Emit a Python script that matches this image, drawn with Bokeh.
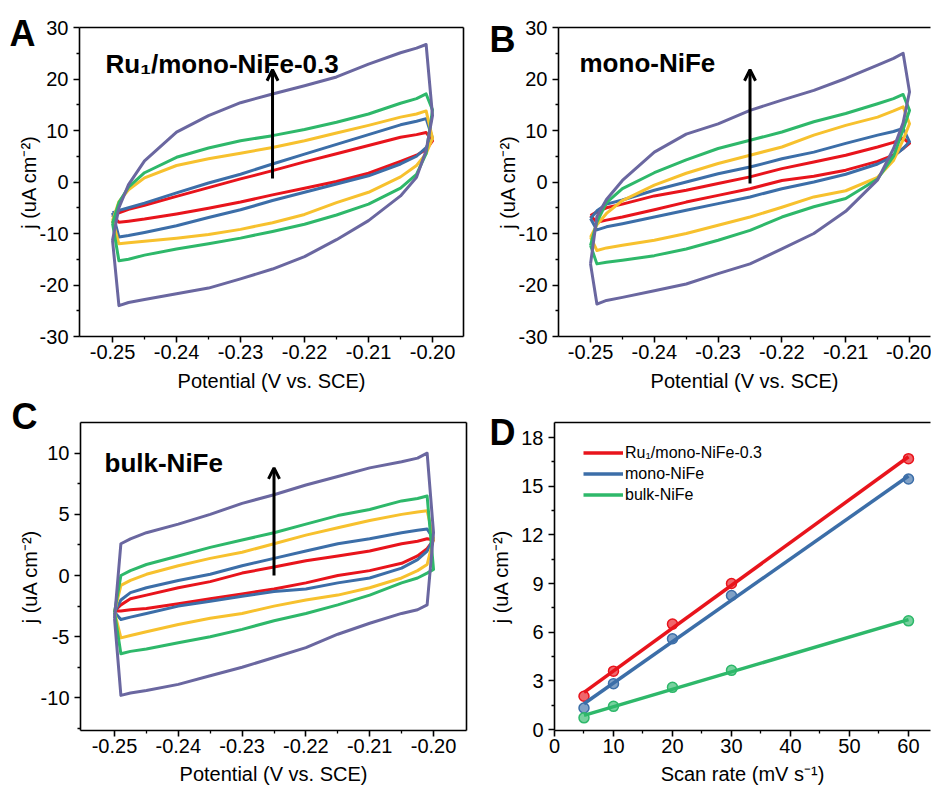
import numpy as np
from bokeh.plotting import figure
from bokeh.models import (Range1d, FixedTicker, LinearAxis, Label, Arrow, OpenHead,
                          Legend, LegendItem, Title)
from bokeh.layouts import column, row
from bokeh.embed import file_html
from bokeh.resources import INLINE

FONT = "Liberation Sans"

# ---------------- data ----------------
# potential grid (V vs. SCE) used for both branches of every CV loop
E = [-0.250, -0.249, -0.2475, -0.245, -0.240, -0.235, -0.230, -0.225,
     -0.220, -0.215, -0.210, -0.205, -0.2025, -0.201, -0.200]

rates = [5, 10, 20, 30, 60]   # scan rates, mV/s
colors = {5: "#E8141C", 10: "#3C6EA8", 20: "#F7C12E", 30: "#2EB86A", 60: "#6A67A0"}

# Panel A: Ru1/mono-NiFe-0.3  (anodic "up" and cathodic "dn" branch, uA cm-2)
A_up = {
    5:  [-6.5, -6.0, -5.3, -4.5, -2.8, -1.1, 0.6, 2.2, 3.9, 5.5, 7.1, 8.7, 9.2, 9.6, 8.0],
    10: [-6.0, -5.5, -5.0, -4.1, -2.1, -0.2, 1.5, 3.5, 5.4, 7.3, 9.2, 11.1, 11.8, 12.3, 8.5],
    20: [-7.5, -3.8, -1.5, 0.8, 3.2, 4.5, 5.6, 6.7, 8.0, 9.5, 11.0, 12.6, 13.2, 13.8, 8.5],
    30: [-8.0, -4.0, -1.0, 1.8, 4.8, 6.6, 8.0, 9.0, 10.2, 11.6, 13.2, 15.3, 16.2, 17.1, 14.0],
    60: [-11.3, -5.0, -0.5, 4.1, 9.7, 12.9, 15.4, 17.1, 18.7, 20.4, 22.9, 25.1, 26.0, 26.7, 12.9],
}
A_dn = {
    5:  [-6.5, -7.8, -7.6, -7.2, -6.2, -5.1, -3.9, -2.5, -1.2, 0.1, 1.7, 4.0, 5.2, 6.3, 8.0],
    10: [-6.0, -10.7, -10.4, -9.8, -8.5, -6.9, -5.4, -3.6, -2.0, -0.4, 1.2, 3.5, 5.0, 6.7, 8.5],
    20: [-7.5, -12.0, -11.8, -11.5, -10.9, -10.2, -9.2, -7.9, -6.3, -4.0, -2.0, 1.0, 3.2, 5.5, 8.5],
    30: [-8.0, -15.3, -15.0, -14.2, -13.0, -12.0, -10.9, -9.6, -8.2, -6.4, -4.3, -1.2, 1.5, 5.5, 14.0],
    60: [-11.3, -24.0, -23.4, -22.8, -21.7, -20.6, -18.8, -16.9, -14.5, -11.2, -7.5, -2.7, 0.9, 6.1, 12.9],
}

# Panel B: mono-NiFe
B_up = {
    5:  [-6.5, -5.8, -5.0, -4.3, -2.7, -1.6, -0.3, 1.0, 2.6, 3.9, 5.2, 6.8, 7.7, 8.5, 7.5],
    10: [-7.1, -5.6, -4.3, -3.5, -1.6, 0.0, 1.6, 2.9, 4.5, 5.8, 7.5, 9.1, 9.8, 10.4, 7.8],
    20: [-10.7, -8.3, -6.1, -3.6, -0.6, 1.7, 3.6, 5.2, 6.8, 9.1, 11.0, 12.6, 13.8, 14.6, 11.3],
    30: [-12.3, -7.8, -4.0, -1.3, 1.8, 4.3, 6.5, 8.1, 9.7, 11.7, 13.3, 15.2, 16.2, 17.0, 13.9],
    60: [-15.9, -6.7, -3.4, 0.3, 5.8, 9.3, 11.3, 13.9, 15.9, 17.8, 20.1, 22.7, 24.0, 25.0, 17.5],
}
B_dn = {
    5:  [-6.5, -7.8, -7.4, -6.8, -5.4, -3.9, -2.6, -1.3, 0.3, 1.1, 2.3, 4.0, 5.2, 6.5, 7.5],
    10: [-7.1, -9.3, -8.7, -8.1, -6.8, -5.5, -4.2, -2.9, -1.3, 0.0, 1.5, 3.5, 5.0, 6.5, 7.8],
    20: [-10.7, -13.3, -12.8, -12.3, -11.3, -10.0, -8.4, -6.8, -4.9, -2.9, -1.7, 0.9, 4.2, 8.2, 11.3],
    30: [-12.3, -15.9, -15.6, -15.2, -14.3, -13.0, -11.3, -9.4, -6.8, -4.8, -3.2, 0.6, 5.0, 10.2, 13.9],
    60: [-15.9, -23.7, -23.0, -22.4, -21.1, -19.8, -17.8, -15.9, -13.0, -10.0, -5.7, 0.4, 6.5, 11.5, 17.5],
}

# Panel C: bulk-NiFe
C_up = {
    5:  [-2.9, -2.4, -1.9, -1.6, -1.0, -0.5, 0.2, 0.7, 1.2, 1.6, 2.0, 2.6, 2.8, 3.0, 2.9],
    10: [-3.0, -2.0, -1.4, -1.0, -0.4, 0.1, 0.8, 1.4, 2.0, 2.6, 3.0, 3.5, 3.7, 3.8, 3.0],
    20: [-3.0, -0.8, -0.4, 0.1, 0.8, 1.4, 1.9, 2.6, 3.3, 3.9, 4.5, 5.0, 5.2, 5.3, 3.0],
    30: [-3.0, 0.0, 0.4, 0.9, 1.6, 2.3, 2.9, 3.5, 4.2, 4.9, 5.4, 6.1, 6.3, 6.5, 0.5],
    60: [-3.5, 2.6, 3.0, 3.5, 4.2, 5.0, 5.9, 6.6, 7.4, 8.1, 8.8, 9.3, 9.6, 10.0, 3.5],
}
C_dn = {
    5:  [-2.9, -2.9, -2.8, -2.7, -2.3, -1.9, -1.5, -1.1, -0.6, 0.0, 0.4, 1.0, 1.6, 2.2, 2.9],
    10: [-3.0, -3.6, -3.4, -3.1, -2.5, -2.1, -1.7, -1.3, -1.1, -0.6, -0.2, 0.6, 1.3, 2.0, 3.0],
    20: [-3.0, -5.1, -4.9, -4.6, -4.0, -3.5, -3.1, -2.5, -2.0, -1.6, -1.0, -0.2, 0.4, 0.9, 3.0],
    30: [-3.0, -6.4, -6.2, -6.0, -5.5, -5.0, -4.4, -3.7, -3.1, -2.4, -1.6, -0.6, -0.2, 0.2, 0.5],
    60: [-3.5, -9.8, -9.6, -9.4, -8.9, -8.2, -7.5, -6.7, -5.9, -4.8, -3.9, -3.1, -2.8, -2.4, 3.5],
}

# Panel D: current density difference vs scan rate
D_names = ["Ru\u2081/mono-NiFe-0.3", "mono-NiFe", "bulk-NiFe"]
D_colors = ["#E8141C", "#3C6EA8", "#2EB86A"]
D_ru = [2.05, 3.6, 6.5, 9.0, 16.7]
D_mono = [1.33, 2.83, 5.6, 8.26, 15.45]
D_bulk = [0.72, 1.43, 2.6, 3.65, 6.7]

# ticks
cv_xticks = [-0.25, -0.24, -0.23, -0.22, -0.21, -0.20]
cv_xlabels = ["-0.25", "-0.24", "-0.23", "-0.22", "-0.21", "-0.20"]
cv_xminor = [-0.245, -0.235, -0.225, -0.215, -0.205]
AB_yticks = [-30, -20, -10, 0, 10, 20, 30]
AB_yminor = [-25, -15, -5, 5, 15, 25]
C_yticks = [-10, -5, 0, 5, 10]
C_yminor = [-12.5, -7.5, -2.5, 2.5, 7.5]
D_xticks = [0, 10, 20, 30, 40, 50, 60]
D_xminor = [5, 15, 25, 35, 45, 55]
D_yticks = [0, 3, 6, 9, 12, 15, 18]
D_yminor = [1.5, 4.5, 7.5, 10.5, 13.5, 16.5]

YTITLE = "j (uA cm\u207b\u00b2)"


# ---------------- helpers ----------------
class Geo:
    def __init__(self, page_left, page_top, width, height, bl, br, bt, bb, xr, yr):
        self.L = page_left + bl
        self.T = page_top + bt
        self.fw = width - bl - br
        self.fh = height - bt - bb
        self.xr, self.yr = xr, yr

    def x(self, px):
        return self.xr[0] + (px - self.L) / self.fw * (self.xr[1] - self.xr[0])

    def y(self, py):
        return self.yr[1] - (py - self.T) / self.fh * (self.yr[1] - self.yr[0])


def style_axis(ax, ticks, minor, labels, standoff, title, title_standoff):
    ax.ticker = FixedTicker(ticks=ticks, minor_ticks=minor)
    ax.major_label_overrides = {t: l for t, l in zip(ticks, labels)}
    ax.axis_line_color = "black"
    ax.axis_line_width = 1.6
    ax.major_tick_line_color = "black"
    ax.major_tick_line_width = 1.6
    ax.minor_tick_line_color = "black"
    ax.minor_tick_line_width = 1.3
    ax.major_tick_in = 0
    ax.major_tick_out = 6
    ax.minor_tick_in = 0
    ax.minor_tick_out = 3
    ax.major_label_text_font = FONT
    ax.major_label_text_font_size = "20px"
    ax.major_label_text_color = "black"
    ax.major_label_standoff = standoff
    ax.axis_label = title
    ax.axis_label_text_font = FONT
    ax.axis_label_text_font_size = "20px"
    ax.axis_label_text_font_style = "normal"
    ax.axis_label_text_color = "black"
    ax.axis_label_standoff = title_standoff


def border_axis(p, side):
    ax = LinearAxis(ticker=FixedTicker(ticks=[]), major_label_text_font_size="0px",
                    major_tick_line_color=None, minor_tick_line_color=None,
                    axis_line_color="black", axis_line_width=1.6)
    p.add_layout(ax, side)


def make_fig(g, width, height, bl, br, bt, bb):
    p = figure(width=width, height=height, title=None,
               x_range=Range1d(*g.xr), y_range=Range1d(*g.yr),
               output_backend="svg", toolbar_location=None,
               min_border_left=bl, min_border_right=br,
               min_border_top=bt, min_border_bottom=bb)
    p.xgrid.visible = False
    p.ygrid.visible = False
    p.outline_line_color = None
    p.background_fill_color = "white"
    p.border_fill_color = "white"
    return p


def add_letter(p, g, letter, letter_x, standoff):
    p.add_layout(Title(text=letter, align="left", offset=letter_x - g.L, standoff=standoff,
                       text_font=FONT, text_font_size="36px", text_font_style="bold",
                       text_color="black"), "above")


def add_name(p, g, name, xy):
    p.add_layout(Label(x=g.x(xy[0]), y=g.y(xy[1]), text=name, text_font=FONT,
                       text_font_size="26px", text_font_style="bold", text_align="left",
                       text_baseline="alphabetic", text_color="black"))


def cv_panel(page_left, page_top, width, height, bl, br, bt, bb, xr, yr,
             up, dn, yticks, yminor, border_right, letter, letter_x, letter_so,
             name, name_xy, arrow_y, ylab_standoff, xlab_standoff):
    g = Geo(page_left, page_top, width, height, bl, br, bt, bb, xr, yr)
    p = make_fig(g, width, height, bl, br, bt, bb)
    for r in rates:
        xs = E + E[::-1]
        ys = up[r] + dn[r][::-1]
        p.line(xs, ys, line_color=colors[r], line_width=3, line_join="round")
    style_axis(p.xaxis[0], cv_xticks, cv_xminor, cv_xlabels, 2,
               "Potential (V vs. SCE)", xlab_standoff)
    style_axis(p.yaxis[0], yticks, yminor, [str(t) for t in yticks], 5,
               YTITLE, ylab_standoff)
    border_axis(p, "above")
    if border_right:
        border_axis(p, "right")
    p.add_layout(Arrow(end=OpenHead(size=11, line_width=3, line_color="black"),
                       x_start=-0.225, y_start=arrow_y[0], x_end=-0.225, y_end=arrow_y[1],
                       line_width=3, line_color="black"))
    add_letter(p, g, letter, letter_x, letter_so)
    add_name(p, g, name, name_xy)
    return p


pA = cv_panel(0, 0, 470, 396, 79, 7, 27, 60, (-0.25516, -0.19516), (-30, 30),
              A_up, A_dn, AB_yticks, AB_yminor, True, "A", 9, -52,
              "Ru\u2081/mono-NiFe-0.3", (105, 63), (0.7, 21.8), -3, 8)
pB = cv_panel(470, 0, 461, 396, 88, 1, 27, 60, (-0.25502, -0.19671), (-30, 30),
              B_up, B_dn, AB_yticks, AB_yminor, False, "B", 489, -64,
              "mono-NiFe", (579, 62), (-0.3, 21.8), -3, 8)
pC = cv_panel(0, 396, 470, 393, 80, 4, 23, 59, (-0.25533, -0.19483), (-12.67, 12.51),
              C_up, C_dn, C_yticks, C_yminor, True, "C", 11, -28,
              "bulk-NiFe", (104, 460), (0.0, 8.8), -3, 7)

# ---------------- panel D ----------------
gD = Geo(470, 396, 461, 393, 84, 1, 26, 59, (0, 63.73), (-0.06, 18.93))
pD = make_fig(gD, 461, 393, 84, 1, 26, 59)
items = []
for name, col, vals in zip(D_names, D_colors, [D_ru, D_mono, D_bulk]):
    k, b = np.polyfit(rates, vals, 1)
    fx = [min(rates), max(rates)]
    fy = [k * v + b for v in fx]
    r = pD.line(fx, fy, line_color=col, line_width=3.5)
    pD.scatter(rates, vals, marker="circle", size=10, fill_color=col, fill_alpha=0.65,
               line_color=col, line_width=1.5)
    items.append(LegendItem(label=name, renderers=[r]))
legend = Legend(items=items, location=(29, 225), label_text_font=FONT,
                label_text_font_size="16px", label_text_color="black",
                glyph_width=40, glyph_height=21, label_height=21, label_standoff=2,
                spacing=0, padding=0, margin=0, border_line_color=None,
                background_fill_alpha=0)
pD.add_layout(legend)
style_axis(pD.xaxis[0], D_xticks, D_xminor, [str(t) for t in D_xticks], 2,
           "Scan rate (mV s\u207b\u00b9)", 7)
style_axis(pD.yaxis[0], D_yticks, D_yminor, [str(t) for t in D_yticks], 5,
           YTITLE, 6)
border_axis(pD, "above")
add_letter(pD, gD, "D", 489, -60)

layout = column(row(pA, pB), row(pC, pD))
open("out.html", "w").write(file_html(layout, INLINE))
